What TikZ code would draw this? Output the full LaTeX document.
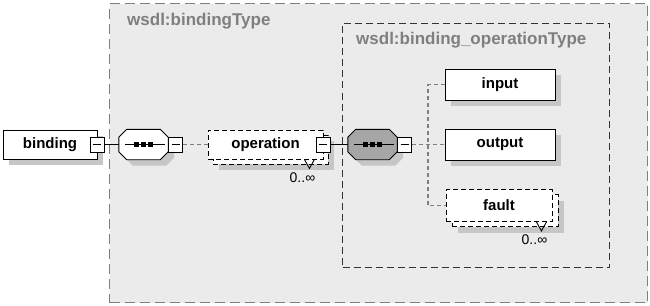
\documentclass[tikz,border=0pt]{standalone}
\usepackage{fontspec}
\setmainfont{Liberation Sans}
\usepackage{xcolor}
\usetikzlibrary{positioning,shadows}

\definecolor{tbg}{HTML}{EBEBEB}
\definecolor{tline}{HTML}{7F7F7F}
\definecolor{shadowc}{HTML}{C6C6C6}
\definecolor{seqgray}{HTML}{A6A6A6}

% octagon of a sequence compositor, drawn round an empty node
\newcommand\seqmark[2]{%
  \draw[line width=0.9pt, fill=#2, shd] ([xshift=8pt]#1.north west) -- ([xshift=-8pt]#1.north east)
    -- ([yshift=-8pt]#1.north east) -- ([yshift=8pt]#1.south east) -- ([xshift=-8pt]#1.south east)
    -- ([xshift=8pt]#1.south west) -- ([yshift=8pt]#1.south west) -- ([yshift=-8pt]#1.north west) -- cycle;
  \draw[line width=0.9pt] ([xshift=6pt]#1.west) -- ([xshift=-3pt]#1.east);
  \foreach \dx in {-7,0,7}
    \fill ([xshift=\dx pt]#1.center) +(-2.5,-2.5) rectangle +(2.5,2.5);
}

\begin{document}
\begin{tikzpicture}[x=1pt, y=-1pt,
      tbox/.style={draw=tline, fill=tbg, line width=1.4pt, dash pattern=on 10pt off 5pt},
      obox/.style={draw=black!80, line width=1pt, dash pattern=on 7pt off 4pt},
      tlab/.style={text=tline, font=\fontsize{17}{20}\selectfont\bfseries, anchor=base west, inner sep=0pt},
      shd/.style={drop shadow={shadow xshift=6pt, shadow yshift=-6pt, fill=shadowc, opacity=1}},
      el/.style={draw, fill=white, line width=0.9pt, inner sep=0pt, minimum height=31pt,
                 font=\fontsize{15}{18}\selectfont\bfseries},
      opt/.style={el, dash pattern=on 5pt off 3pt},
      col/.style={draw, fill=white, line width=0.9pt, minimum width=14pt, minimum height=15pt, inner sep=0pt,
                  path picture={\draw[line width=0.9pt] ([xshift=3pt]path picture bounding box.west)
                                -- ([xshift=-3pt]path picture bounding box.east);}},
      seq/.style={minimum width=49pt, minimum height=30pt, inner sep=0pt},
      mult/.style={font=\fontsize{14}{16}\selectfont, inner sep=0pt, anchor=north east},
      sol/.style={draw=black, line width=0.9pt},
      dsh/.style={draw=tline, line width=1.1pt, dash pattern=on 4pt off 3pt}]
    \useasboundingbox (0,0) rectangle (650,305);

    % complex types
    \node[tbox, anchor=north west, minimum width=538pt, minimum height=299pt] (bt) at (109,3) {};
    \node[obox, anchor=north west, minimum width=267pt, minimum height=244pt] (bot) at (342,23) {};
    \node[tlab] (btlab) at (127,26) {wsdl:bindingType};
    \node[tlab] (botlab) at (356,45) {wsdl:binding\_operationType};

    % elements
    \node[el, shd, minimum width=94pt, minimum height=29pt] (binding) at (50,144.5) {binding};
    \node[col] (bindc) at (binding.east) {};
    \node[seq] (seqa) at (143.5,144.5) {};
    \seqmark{seqa}{white}
    \node[col, anchor=west] (seqac) at (seqa.east) {};

    \node[opt, shd, minimum width=115pt, minimum height=29pt] (opback) at (270.5,149.5) {};
    \node[opt, minimum width=115pt, minimum height=29pt] (op) at (265.5,144.5) {operation};
    \node[col] (opc) at (op.east) {};
    \node[mult] (opmult) at ([xshift=-13pt, yshift=-8pt]opback.south east) {0..∞};
    \draw[line width=0.9pt] (opmult.north east) ++(-11,-13) -- ++(5,9) -- ++(5,-9);

    \node[seq] (seqb) at (372.5,144.5) {};
    \seqmark{seqb}{seqgray}
    \node[col, anchor=west] (seqbc) at (seqb.east) {};

    \node[el, shd, minimum width=110pt] (input) at (500,84.5) {input};
    \node[el, shd, minimum width=110pt] (output) at (500,144.5) {output};
    \node[opt, shd, minimum width=106pt, minimum height=32pt] (faultback) at (505,210.5) {};
    \node[opt, minimum width=106pt, minimum height=32pt] (fault) at (499,205.5) {fault};
    \node[mult] (faultmult) at ([xshift=-11pt, yshift=-8pt]faultback.south east) {0..∞};
    \draw[line width=0.9pt] (faultmult.north east) ++(-11,-13) -- ++(5,9) -- ++(5,-9);

    % connectors
    \coordinate (fork) at (428,144.5);
    \draw[sol] (bindc) -- (seqa);
    \draw[dsh] (seqac) -- (op);
    \draw[sol] (opc) -- (seqb);
    \draw[dsh] (seqbc) -- (output);
    \draw[dsh] (input.west) -- (input.west -| fork) -- (fault.west -| fork) -- (fault.west);
  \end{tikzpicture}
\end{document}
